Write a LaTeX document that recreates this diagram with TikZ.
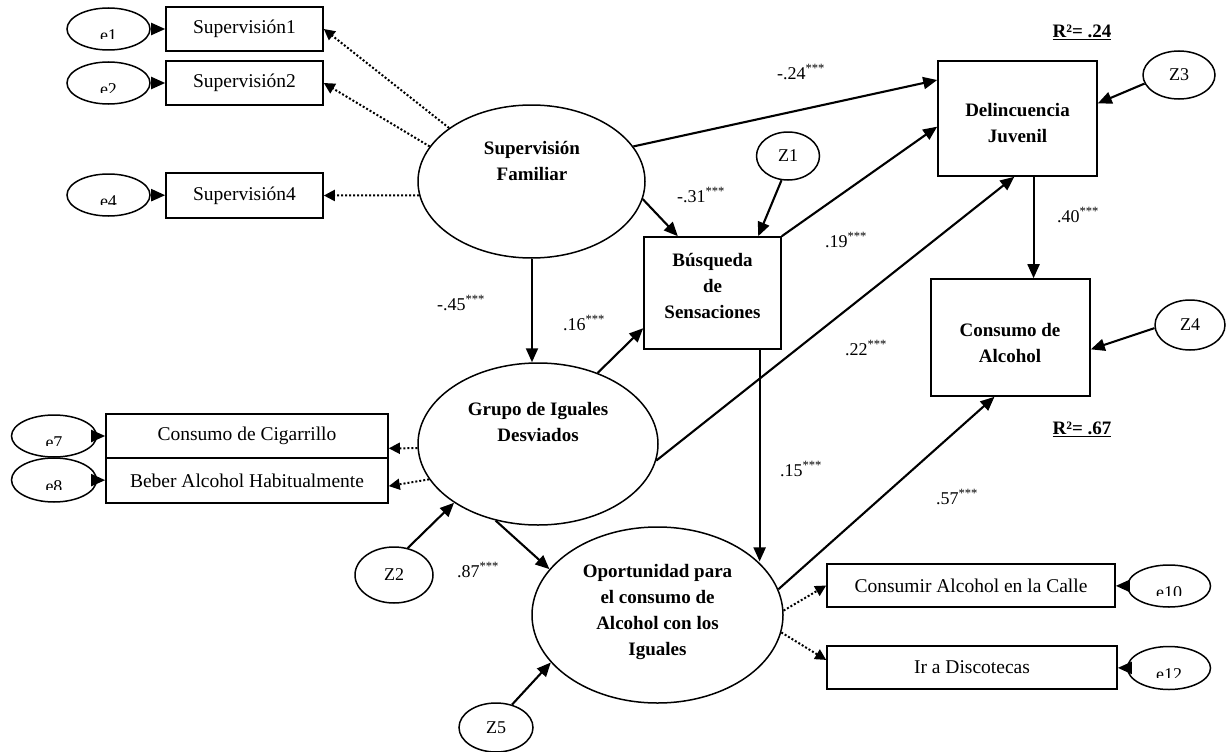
\documentclass[tikz,border=0pt]{standalone}
\usepackage{fontspec}
\setmainfont{Liberation Serif}
\usetikzlibrary{shapes.geometric,arrows.meta,calc}
\newcommand\errlab[2]{\begin{scope}\clip ($(#1.center)+(-45,-25)$) rectangle ($(#1.center)+(45,9.5)$);
\node[coef, anchor=base] (#1t) at ($(#1.center)+(0,12.5)$) {#2};\end{scope}}
\begin{document}
\begin{tikzpicture}[x=1pt,y=-1pt,
 box/.style={draw, line width=1.6pt, inner sep=0pt, font=\fontsize{19.5}{24}\selectfont},
 lat/.style={ellipse, draw, line width=1.5pt, inner sep=0pt},
 err/.style={ellipse, draw, line width=1.5pt, inner sep=0pt, minimum width=83pt, minimum height=42pt},
 dist/.style={ellipse, draw, line width=1.5pt, inner sep=0pt, font=\fontsize{18}{22}\selectfont},
 btxt/.style={font=\bfseries\fontsize{19}{26}\selectfont, align=center, inner sep=0pt},
 arr/.style={line width=2.1pt, -{Triangle[length=14pt,width=12pt]}},
 dotarr/.style={line width=2pt, dash pattern=on 2pt off 2pt, -{Triangle[length=11pt,width=11pt]}},
 coef/.style={font=\fontsize{18}{22}\selectfont, inner sep=0pt},
 rsq/.style={font=\bfseries\fontsize{19}{22}\selectfont, inner sep=0pt},
]
\useasboundingbox (0,0) rectangle (1226,752);

% boxes
\node[box, minimum width=157pt, minimum height=44pt] (s1) at (244.5,29) {Supervisión1};
\node[box, minimum width=157pt, minimum height=44pt] (s2) at (244.5,83) {Supervisión2};
\node[box, minimum width=157pt, minimum height=45pt] (s4) at (244.5,195.5) {Supervisión4};
\node[box, minimum width=282pt, minimum height=44pt] (cig) at (247,436) {Consumo de Cigarrillo};
\node[box, minimum width=282pt, minimum height=45pt] (beber) at (247,480.5) {Beber Alcohol Habitualmente};
\node[box, minimum width=159pt, minimum height=115pt] (delinc) at (1017.5,118.5) {};
\node[box, minimum width=159pt, minimum height=117pt] (cons) at (1010.5,337.5) {};
\node[box, minimum width=137pt, minimum height=112pt] (busq) at (712.5,293) {};
\node[box, minimum width=288pt, minimum height=43pt] (calle) at (971,585.5) {Consumir Alcohol en la Calle};
\node[box, minimum width=290pt, minimum height=43pt] (ir) at (972,667.5) {Ir a Discotecas};

% latent ellipses
\node[lat, minimum width=227pt, minimum height=153pt] (sup) at (531.5,181.5) {};
\node[lat, minimum width=240pt, minimum height=162pt] (grupo) at (538,444) {};
\node[lat, minimum width=251pt, minimum height=176pt] (opp) at (657.5,615) {};

% bold texts
\node[btxt] (supT) at (532,160.5) {Supervisión\\Familiar};
\node[btxt] (grupoT) at (538,422) {Grupo de Iguales\\Desviados};
\node[btxt] (busqT) at (712.5,286) {Búsqueda\\de\\Sensaciones};
\node[btxt] (delincT) at (1017.5,123.5) {Delincuencia\\Juvenil};
\node[btxt] (consT) at (1010,342.5) {Consumo de\\Alcohol};
\node[btxt] (oppT) at (657.5,611.5) {Oportunidad para\\el consumo de\\Alcohol con los\\Iguales};

% error ellipses
\node[err] (e1) at (108.5,29) {};
\node[err] (e2) at (108.5,83) {};
\node[err] (e4) at (108.5,195) {};
\node[err, minimum width=85pt] (e7) at (54,436) {};
\node[err, minimum width=85pt, minimum height=44pt] (e8) at (54,480) {};
\node[err] (e10) at (1169,586) {};
\node[err, minimum height=43pt] (e12) at (1169,668) {};
\errlab{e1}{e1}
\errlab{e2}{e2}
\errlab{e4}{e4}
\errlab{e7}{e7}
\errlab{e8}{e8}
\errlab{e10}{e10}
\errlab{e12}{e12}

% disturbances
\node[dist, minimum width=63pt, minimum height=48pt] (z1) at (788,156) {Z1};
\node[dist, minimum width=78pt, minimum height=56pt] (z2) at (394,575) {Z2};
\node[dist, minimum width=72pt, minimum height=48pt] (z3) at (1179,75) {Z3};
\node[dist, minimum width=70pt, minimum height=50pt] (z4) at (1190,325) {Z4};
\node[dist, minimum width=74pt, minimum height=49pt] (z5) at (496,727.5) {Z5};

% measurement arrows
\draw[arr] (e1) -- (s1);
\draw[arr] (e2) -- (s2);
\draw[arr] (e4) -- (s4);
\draw[arr] (e7) -- (cig);
\draw[arr] (e8) -- (beber);
\draw[arr] (e10) -- (calle);
\draw[arr] (e12) -- (ir);
\draw[dotarr] (sup.147) -- (s1.east);
\draw[dotarr] (sup.161) -- (s2.east);
\draw[dotarr] (sup.187) -- (s4.east);
\draw[dotarr] (grupo.182) -- ($(cig.north east)!0.77!(cig.south east)$);
\draw[dotarr] (grupo.198) -- ($(beber.north east)!0.62!(beber.south east)$);
\draw[dotarr] (opp.2) -- (calle.west);
\draw[dotarr] (opp.-8) -- ($(ir.north west)!0.33!(ir.south west)$);

% structural arrows
\draw[arr] (sup.19) -- ($(delinc.north west)!0.17!(delinc.south west)$);
\draw[arr] (sup.-9) -- ($(busq.north west)!0.25!(busq.north east)$);
\draw[arr] ([xshift=0.5pt]sup.south) coordinate (sg) -- (sg |- grupo.north);
\draw[arr] (z1.-105) -- ($(busq.north west)!0.83!(busq.north east)$);
\draw[arr] (busq.north east) -- ($(delinc.north west)!0.57!(delinc.south west)$);
\draw[arr] (grupo.-8) -- ($(delinc.south west)!0.48!(delinc.south east)$);
\draw[arr] (z3.194) -- ($(delinc.north east)!0.37!(delinc.south east)$);
\draw[arr] ($(delinc.south west)!0.6!(delinc.south east)$) coordinate (dc) -- (dc |- cons.north);
\draw[arr] (z4.185) -- ($(cons.north east)!0.6!(cons.south east)$);
\draw[arr] (opp.12) -- ($(cons.south west)!0.4!(cons.south east)$);
\draw[arr] ($(busq.south west)!0.84!(busq.south east)$) coordinate (bo) -- (bo |- opp.28);
\draw[arr] (grupo.50) -- ($(busq.north west)!0.81!(busq.south west)$);
\draw[arr] (grupo.-119) -- (opp.157);
\draw[arr] (z2.63) -- (grupo.-145);
\draw[arr] (z5.55) -- (opp.-156);

% coefficients
\node[coef] (c1) at (801,72) {-.24\textsuperscript{***}};
\node[coef] (c2) at (701,195) {-.31\textsuperscript{***}};
\node[coef] (c3) at (846,240) {.19\textsuperscript{***}};
\node[coef] (c4) at (866,348) {.22\textsuperscript{***}};
\node[coef] (c5) at (1078,215) {.40\textsuperscript{***}};
\node[coef] (c6) at (461,303) {-.45\textsuperscript{***}};
\node[coef] (c7) at (584,323) {.16\textsuperscript{***}};
\node[coef] (c8) at (801,469) {.15\textsuperscript{***}};
\node[coef] (c9) at (478,570) {.87\textsuperscript{***}};
\node[coef] (c10) at (957,497) {.57\textsuperscript{***}};
\node[rsq] (r1) at (1082,32) {\underline{R²= .24}};
\node[rsq] (r2) at (1082,429) {\underline{R²= .67}};
\end{tikzpicture}
\end{document}
